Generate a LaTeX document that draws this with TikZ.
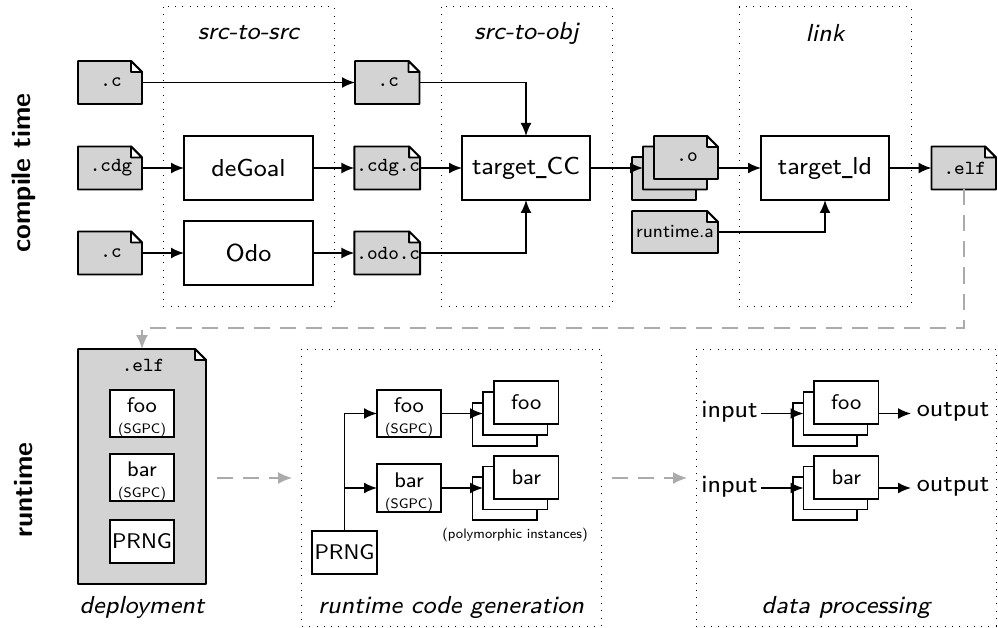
\documentclass[tikz,border=0pt]{standalone}
\usepackage{graphicx}
\usetikzlibrary{arrows.meta,backgrounds}
\definecolor{filegray}{HTML}{D3D3D3}
\definecolor{flowgray}{HTML}{ABABAB}
\tikzset{
  x=1pt,y=-1pt,
  wire/.style={line width=1.8pt,-{Latex[length=13pt,width=11pt]}},
  flow/.style={line width=1.6pt,draw=flowgray,dash pattern=on 16pt off 10pt,-{Latex[length=14pt,width=12pt]}},
  frame/.style={line width=1pt,dash pattern=on 1pt off 6.3pt},
  boxnode/.style={draw,fill=white,line width=1.8pt,inner sep=0pt,outer sep=0pt,align=center,font=\fontsize{20}{21}\selectfont},
  filenode/.style={inner sep=0pt,outer sep=0pt,align=center},
  side/.style={font=\fontsize{27}{30}\sffamily\bfseries,rotate=90},
}
% text set in the 8pt design size, enlarged
\newcommand{\bigT}[1]{\scalebox{3.07}{\fontsize{8}{9}\sffamily #1}}
\newcommand{\midT}[1]{\scalebox{2.65}{\fontsize{8}{9}\sffamily #1}}
\newcommand{\rtaT}[1]{\scalebox{2.3}{\fontsize{8}{9}\sffamily #1}}
\newcommand{\smT}[1]{\scalebox{1.72}{\fontsize{8}{9}\sffamily #1}}
\newcommand{\monoT}[1]{\hspace{2pt}\scalebox{2.5}{\fontsize{8}{9}\ttfamily #1}}
\newcommand{\headT}[1]{\scalebox{3.08}{\fontsize{8}{9}\sffamily\itshape #1}}
\newcommand{\twoT}[1]{\rule{0pt}{23pt}\midT{#1}\\\smT{(SGPC)}}
\newcommand{\us}{\scalebox{0.6}[1]{\_}}
% name, x1, y1, x2, y2, options, text
\newcommand{\boxat}[7]{\node[boxnode,minimum width={(#4-#2)*1pt},minimum height={(#5-#3)*1pt},#6] (#1) at ({(#2+#4)/2},{(#3+#5)/2}) {#7};}
\newcommand{\fileat}[7]{%
  \node[filenode,minimum width={(#4-#2)*1pt},minimum height={(#5-#3)*1pt},#6] (#1) at ({(#2+#4)/2},{(#3+#5)/2}) {#7};
  \begin{pgfonlayer}{background}
    \draw[line width=1.8pt,fill=filegray,line join=round] (#1.north west) -- ([xshift=-11pt]#1.north east) -- ([yshift=-11pt]#1.north east) -- (#1.south east) -- (#1.south west) -- cycle;
    \draw[line width=1.8pt,fill=white,line join=round] ([xshift=-11pt]#1.north east) -- ([yshift=-11pt]#1.north east) -- ([xshift=-11pt,yshift=-11pt]#1.north east) -- cycle;
  \end{pgfonlayer}}
\begin{document}
\begin{tikzpicture}
\useasboundingbox (0,0) rectangle (998,628);
\begin{pgfonlayer}{background}
  \draw[frame] (163,7) rectangle (334,306);
  \draw[frame] (441,7) rectangle (612,306);
  \draw[frame] (739,7) rectangle (911,306);
  \draw[frame] (301.5,349) rectangle (601,626);
  \draw[frame] (696,349) rectangle (996,626);
\end{pgfonlayer}
\node[side] (ct) at (24,173) {compile time};
\node[side] (rt) at (24,490) {runtime};
\node (h1) at (248.5,33) {\headT{src-to-src}};
\node (h2) at (526.5,33) {\headT{src-to-obj}};
\node (h3) at (825,33) {\headT{link}};
\node (h4) at (142,607) {\headT{deployment}};
\node (h5) at (451,607) {\headT{runtime code generation}};
\node (h6) at (846,607) {\headT{data processing}};
% compile time
\fileat{c1}{78}{61}{142}{104}{}{\monoT{.c}}
\fileat{cdg}{78}{146.5}{142}{189.5}{}{\monoT{.cdg}}
\fileat{c3}{78}{231.5}{142}{274.5}{}{\monoT{.c}}
\boxat{degoal}{184}{136}{313}{200}{}{\bigT{deGoal}}
\boxat{odo}{184}{221}{313}{285}{}{\bigT{Odo}}
\fileat{c2}{355}{61}{419.5}{104}{}{\monoT{.c}}
\fileat{cdgc}{355}{146.5}{419.5}{189.5}{}{\monoT{.cdg.c}}
\fileat{odoc}{355}{231.5}{419.5}{274.5}{}{\monoT{.odo.c}}
\boxat{cc}{462}{136}{590}{200}{}{\bigT{target\us CC}}
\fileat{o3}{632}{157}{696}{200}{}{}
\fileat{o2}{643}{146.5}{707}{189.5}{}{}
\fileat{o1}{654}{136}{718}{179}{}{\monoT{.o}}
\fileat{rta}{632}{211}{718}{253}{}{\rtaT{runtime.a}}
\boxat{ld}{761}{136}{889}{200}{}{\bigT{target\us ld}}
\fileat{elf}{931.5}{146.5}{996}{189.5}{}{\monoT{.elf}}
\draw[wire] (c1.east) -- (c2.west);
\draw[wire] (cdg.east) -- (degoal.west);
\draw[wire] (c3.east) -- (odo.west);
\draw[wire] (degoal.east) -- (cdgc.west);
\draw[wire] (odo.east) -- (odoc.west);
\draw[wire] (c2.east) -| (cc.north);
\draw[wire] (cdgc.east) -- (cc.west);
\draw[wire] (odoc.east) -| (cc.south);
\draw[wire] (cc.east) -- (o2.west);
\draw[wire] (o1.east |- ld.west) -- (ld.west);
\draw[wire] (rta.east) -| (ld.south);
\draw[wire] (ld.east) -- (elf.west);
% deployment
\fileat{big}{78}{349}{206}{584}{}{}
\node[inner sep=0pt] (biglabel) at (142,365) {\monoT{.elf}};
\boxat{dfoo}{110}{392}{174}{435}{}{\twoT{foo}}
\boxat{dbar}{110}{456}{174}{499}{}{\twoT{bar}}
\boxat{dprng}{110}{520}{174}{563}{}{\midT{PRNG}}
\coordinate (turn) at (0,328);
\draw[flow] (elf.south) -- (elf.south |- turn) -- (big.north |- turn) -- (big.north);
\coordinate (f1a) at (217,478);
\coordinate (f1b) at (292,478);
\coordinate (f2a) at (612,478);
\coordinate (f2b) at (687,478);
\draw[flow] (f1a) -- (f1b);
\draw[flow] (f2a) -- (f2b);
% runtime code generation
\boxat{rfoo}{377}{392}{441}{435}{}{\twoT{foo}}
\boxat{rbar}{377}{466.5}{441}{509.5}{}{\twoT{bar}}
\boxat{rprng}{312}{531}{377}{574}{}{\midT{PRNG}}
\boxat{rf3}{472.5}{403}{537}{446}{}{}
\boxat{rf2}{483}{392}{547.5}{435}{}{}
\boxat{rf1}{494}{381}{558.5}{424}{}{\midT{foo}}
\boxat{rb3}{472.5}{477}{537}{520}{}{}
\boxat{rb2}{483}{466.5}{547.5}{509.5}{}{}
\boxat{rb1}{494}{456}{558.5}{499}{}{\midT{bar}}
\draw[wire] (rprng.north) |- (rfoo.west);
\draw[wire] (rprng.north |- rbar.west) -- (rbar.west);
\draw[wire] (rfoo.east) -- (rf2.west);
\draw[wire] (rbar.east) -- (rb2.west);
\node[inner sep=0pt] (poly) at (515,535) {\smT{(polymorphic instances)}};
% data processing
\boxat{pf3}{793}{403}{857}{446}{}{}
\boxat{pf2}{803.5}{392}{867.5}{435}{}{}
\boxat{pf1}{814}{381}{878.5}{424}{}{\midT{foo}}
\boxat{pb3}{793}{477}{857}{520}{}{}
\boxat{pb2}{803.5}{466.5}{867.5}{509.5}{}{}
\boxat{pb1}{814}{456}{878.5}{499}{}{\midT{bar}}
\node[inner sep=0pt] (i1) at (729.5,412) {\bigT{input}};
\node[inner sep=0pt] (i2) at (729.5,487) {\bigT{input}};
\node[inner sep=0pt] (o1x) at (953,412) {\bigT{output}};
\node[inner sep=0pt] (o2x) at (953,487) {\bigT{output}};
\coordinate (ia) at (761,413.5);
\coordinate (ib) at (761,488);
\coordinate (oa) at (911,413.5);
\coordinate (ob) at (911,488);
\draw[wire] (ia) -- (pf2.west);
\draw[wire] (ib) -- (pb2.west);
\draw[wire] (pf1.east |- pf2.east) -- (oa);
\draw[wire] (pb1.east |- pb2.east) -- (ob);
\end{tikzpicture}
\end{document}
